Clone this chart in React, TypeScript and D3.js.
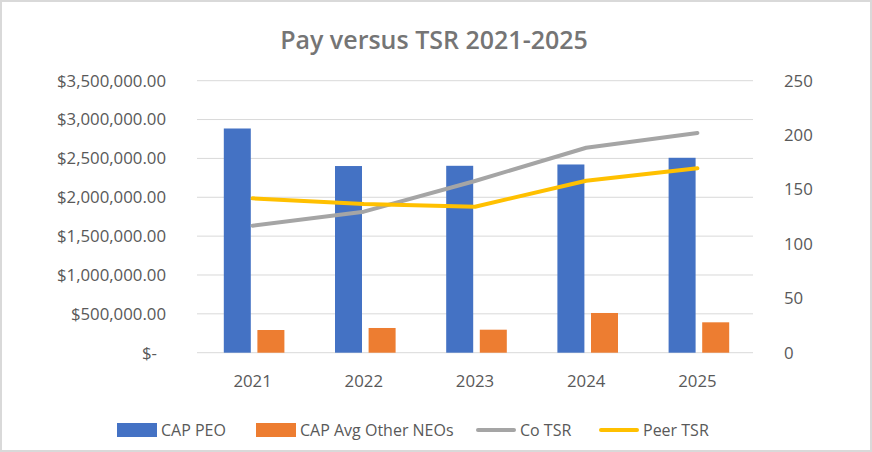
import * as d3 from 'd3';
import { useEffect, useRef } from 'react';

const years = ['2021', '2022', '2023', '2024', '2025'];
const capPeo = [2885000, 2402000, 2405000, 2422000, 2508000];
const capOtherNeos = [292000, 318000, 296000, 511000, 391000];
const coTsr = [116.7, 129.6, 157.8, 188.4, 202];
const peerTsr = [141.9, 136.7, 134.2, 158, 169.5];
const leftTicks = [0, 500000, 1000000, 1500000, 2000000, 2500000, 3000000, 3500000];
const rightTicks = [0, 50, 100, 150, 200, 250];

const W = 872;
const H = 452;
const FONT = '"Open Sans", "Liberation Sans", sans-serif';

export default function App() {
  const svgRef = useRef<SVGSVGElement>(null);

  useEffect(() => {
    const svg = d3.select(svgRef.current);
    svg.selectAll('*').remove();

    const left = 197;
    const right = 753;
    const top = 80.7;
    const bottom = 352.7;

    svg.append('rect')
      .attr('x', 1).attr('y', 1)
      .attr('width', W - 2).attr('height', H - 2)
      .attr('fill', '#fff').attr('stroke', '#d9d9d9').attr('stroke-width', 2);

    svg.append('text')
      .attr('x', 434).attr('y', 49)
      .attr('text-anchor', 'middle')
      .attr('font-family', FONT).attr('font-weight', 600)
      .attr('font-size', 25).attr('fill', '#757575')
      .text('Pay versus TSR 2021-2025');

    const x = d3.scaleBand().domain(years).range([left, right]);
    const yL = d3.scaleLinear().domain([0, 3500000]).range([bottom, top]);
    const yR = d3.scaleLinear().domain([0, 250]).range([bottom, top]);

    // gridlines
    svg.append('g').selectAll('line').data(leftTicks).join('line')
      .attr('x1', left).attr('x2', right)
      .attr('y1', d => yL(d)).attr('y2', d => yL(d))
      .attr('stroke', '#d9d9d9').attr('stroke-width', 1);

    const fmt = (v: number) => v === 0 ? '$-' : '$' + d3.format(',.2f')(v);
    svg.append('g').selectAll('text').data(leftTicks).join('text')
      .attr('x', d => d === 0 ? 157 : 166).attr('y', d => yL(d))
      .attr('dy', '0.35em').attr('text-anchor', 'end')
      .attr('font-family', FONT).attr('font-size', 16.8).attr('fill', '#595959')
      .text(fmt);

    svg.append('g').selectAll('text').data(rightTicks).join('text')
      .attr('x', 784).attr('y', d => yR(d))
      .attr('dy', '0.35em').attr('text-anchor', 'start')
      .attr('font-family', FONT).attr('font-size', 16.8).attr('fill', '#595959')
      .text(d => d);

    svg.append('g').selectAll('text').data(years).join('text')
      .attr('x', d => x(d)! + x.bandwidth() / 2).attr('y', 381)
      .attr('dy', '0.35em').attr('text-anchor', 'middle')
      .attr('font-family', FONT).attr('font-size', 16.8).attr('fill', '#595959')
      .text(d => d);

    const bw = 27;
    const gap = 6.6;
    const cx = (d: string) => x(d)! + x.bandwidth() / 2 + 1.5;

    svg.append('g').selectAll('rect').data(years).join('rect')
      .attr('x', d => cx(d) - gap / 2 - bw)
      .attr('y', (d, i) => yL(capPeo[i]))
      .attr('width', bw)
      .attr('height', (d, i) => bottom - yL(capPeo[i]))
      .attr('fill', '#4472c4');

    svg.append('g').selectAll('rect').data(years).join('rect')
      .attr('x', d => cx(d) + gap / 2)
      .attr('y', (d, i) => yL(capOtherNeos[i]))
      .attr('width', bw)
      .attr('height', (d, i) => bottom - yL(capOtherNeos[i]))
      .attr('fill', '#ed7d31');

    const line = d3.line<number>()
      .x((d, i) => x(years[i])! + x.bandwidth() / 2)
      .y(d => yR(d));

    svg.append('path').datum(coTsr)
      .attr('fill', 'none').attr('stroke', '#a5a5a5').attr('stroke-width', 4)
      .attr('stroke-linecap', 'round').attr('stroke-linejoin', 'round')
      .attr('d', line);

    svg.append('path').datum(peerTsr)
      .attr('fill', 'none').attr('stroke', '#ffc000').attr('stroke-width', 4)
      .attr('stroke-linecap', 'round').attr('stroke-linejoin', 'round')
      .attr('d', line);

    // legend
    const ly = 430;
    const items = [
      { label: 'CAP PEO', color: '#4472c4', kind: 'rect', x: 117 },
      { label: 'CAP Avg Other NEOs', color: '#ed7d31', kind: 'rect', x: 256 },
      { label: 'Co TSR', color: '#a5a5a5', kind: 'line', x: 476 },
      { label: 'Peer TSR', color: '#ffc000', kind: 'line', x: 599 },
    ];
    const lg = svg.append('g');
    items.forEach(it => {
      if (it.kind === 'rect') {
        lg.append('rect').attr('x', it.x).attr('y', ly - 7)
          .attr('width', 40).attr('height', 14).attr('fill', it.color);
      } else {
        lg.append('line').attr('x1', it.x + 2).attr('x2', it.x + 38)
          .attr('y1', ly).attr('y2', ly)
          .attr('stroke', it.color).attr('stroke-width', 4).attr('stroke-linecap', 'round');
      }
      lg.append('text').attr('x', it.x + 44).attr('y', ly)
        .attr('dy', '0.35em')
        .attr('font-family', FONT).attr('font-size', 16).attr('fill', '#595959')
        .text(it.label);
    });
  }, []);

  return (
    <>
      <style>{'body{margin:0}'}</style>
      <svg ref={svgRef} width={W} height={H} viewBox={`0 0 ${W} ${H}`} style={{ display: 'block' }} />
    </>
  );
}
